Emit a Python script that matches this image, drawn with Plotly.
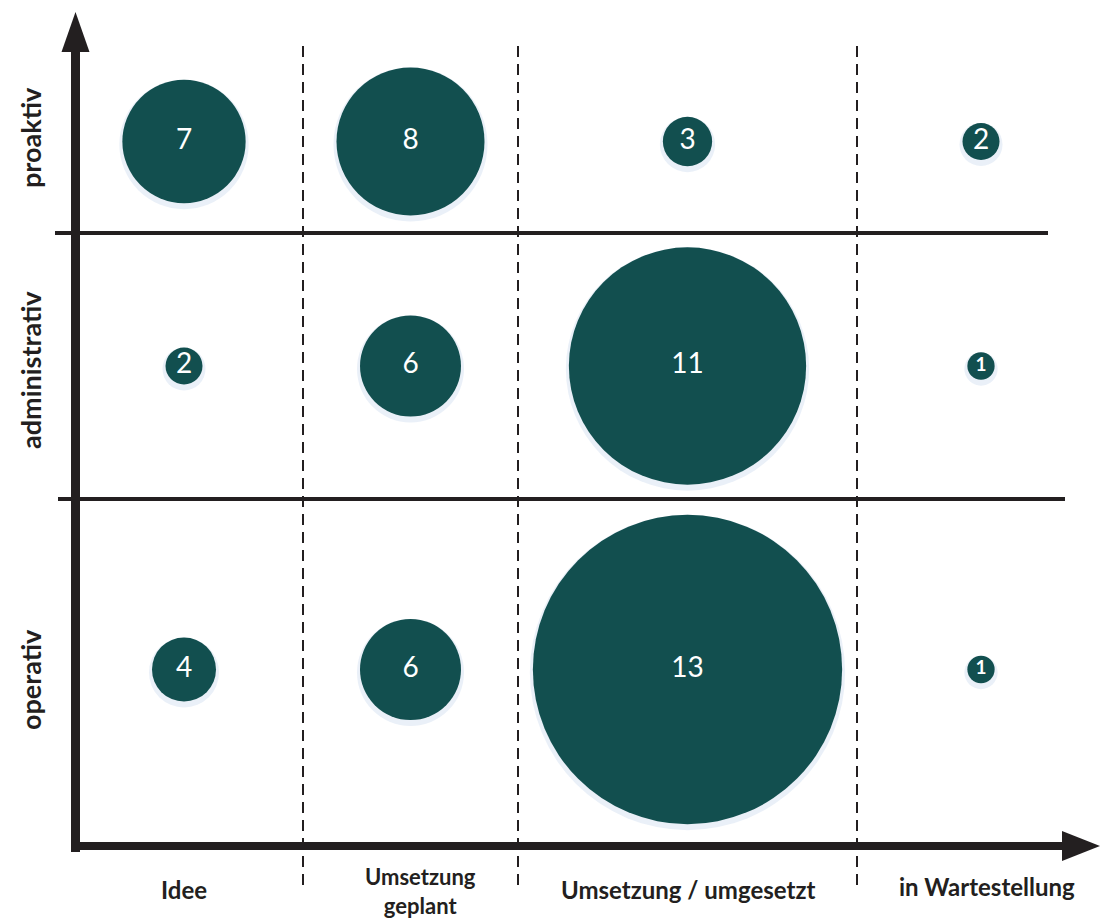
import plotly.graph_objects as go

# ---- data ----
stages = ["Idee", "Umsetzung<br>geplant", "Umsetzung / umgesetzt", "in Wartestellung"]
kinds = ["proaktiv", "administrativ", "operativ"]
values_proaktiv = [7, 8, 3, 2]
values_administrativ = [2, 6, 11, 1]
values_operativ = [4, 6, 13, 1]
values = [values_proaktiv, values_administrativ, values_operativ]

# ---- layout (pixel-space scale) ----
W, H = 1100, 922
col_edges = [65, 303, 518, 857, 1105]
row_edges = [50, 233, 499, 840]
col_centers = [(col_edges[i] + col_edges[i + 1]) / 2 for i in range(len(stages))]
row_centers = [(row_edges[i] + row_edges[i + 1]) / 2 for i in range(len(kinds))]

BUBBLE = "#124f4f"
INK = "#231f20"
FONT = "Lato, Open Sans, sans-serif"

def diameter(v):
    return 1.25 * v * v + 6 * v + 20

xs, ys, sizes, texts, tsizes = [], [], [], [], []
for r, kind in enumerate(kinds):
    for c, st in enumerate(stages):
        v = values[r][c]
        xs.append(col_centers[c])
        ys.append(row_centers[r])
        sizes.append(diameter(v))
        texts.append(f"<b>{v}</b>" if v == 1 else str(v))
        tsizes.append(19 if v == 1 else 28)

fig = go.Figure()
# soft shadow
fig.add_trace(go.Scatter(
    x=xs, y=[y + 3 for y in ys], mode="markers",
    marker=dict(size=[s + 6 for s in sizes], color="rgba(170,195,225,0.35)", line=dict(width=0)),
    hoverinfo="skip", showlegend=False))
fig.add_trace(go.Scatter(
    x=xs, y=ys, mode="markers+text", text=texts,
    textposition="middle center",
    textfont=dict(color="white", size=tsizes, family=FONT),
    marker=dict(size=sizes, sizemode="diameter", color=BUBBLE, line=dict(width=0), opacity=1),
    showlegend=False))

shapes = []
# dashed column dividers
for xe in col_edges[1:-1]:
    shapes.append(dict(type="line", x0=xe, x1=xe, y0=46, y1=892,
                       line=dict(color=INK, width=2, dash="11px,7px")))
# solid row dividers
shapes.append(dict(type="line", x0=55, x1=1048, y0=row_edges[1], y1=row_edges[1],
                   line=dict(color=INK, width=4)))
shapes.append(dict(type="line", x0=58, x1=1065, y0=row_edges[2], y1=row_edges[2],
                   line=dict(color=INK, width=4)))
# axes with arrows
shapes.append(dict(type="line", x0=75.5, x1=75.5, y0=852, y1=48, line=dict(color=INK, width=9)))
shapes.append(dict(type="path", path="M 61.5 52 L 75.5 12 L 89.5 52 Z", fillcolor=INK, line=dict(width=0)))
shapes.append(dict(type="line", x0=71, x1=1065, y0=846, y1=846, line=dict(color=INK, width=8)))
shapes.append(dict(type="path", path="M 1062 831 L 1100 846 L 1062 861 Z", fillcolor=INK, line=dict(width=0)))

annotations = []
label_x_shift = [0, 10, 0, 6]
label_y = [889, 891, 889, 886]
label_size = [24, 22, 24, 24]
for c, st in enumerate(stages):
    annotations.append(dict(x=col_centers[c] + label_x_shift[c], y=label_y[c],
                            text=f"<b>{st}</b>", showarrow=False, xanchor="center", yanchor="middle",
                            font=dict(size=label_size[c], color=INK, family=FONT)))
row_label_y = [138, 370, 680]
for r, kind in enumerate(kinds):
    annotations.append(dict(x=30, y=row_label_y[r], text=f"<b>{kind}</b>", textangle=-90, showarrow=False,
                            xanchor="center", yanchor="middle",
                            font=dict(size=27, color=INK, family=FONT)))

fig.update_layout(
    width=W, height=H, margin=dict(l=0, r=0, t=0, b=0),
    plot_bgcolor="white", paper_bgcolor="white",
    xaxis=dict(range=[0, W], visible=False, fixedrange=True),
    yaxis=dict(range=[H, 0], visible=False, fixedrange=True),
    shapes=shapes, annotations=annotations,
)
fig.write_html("out.html")
